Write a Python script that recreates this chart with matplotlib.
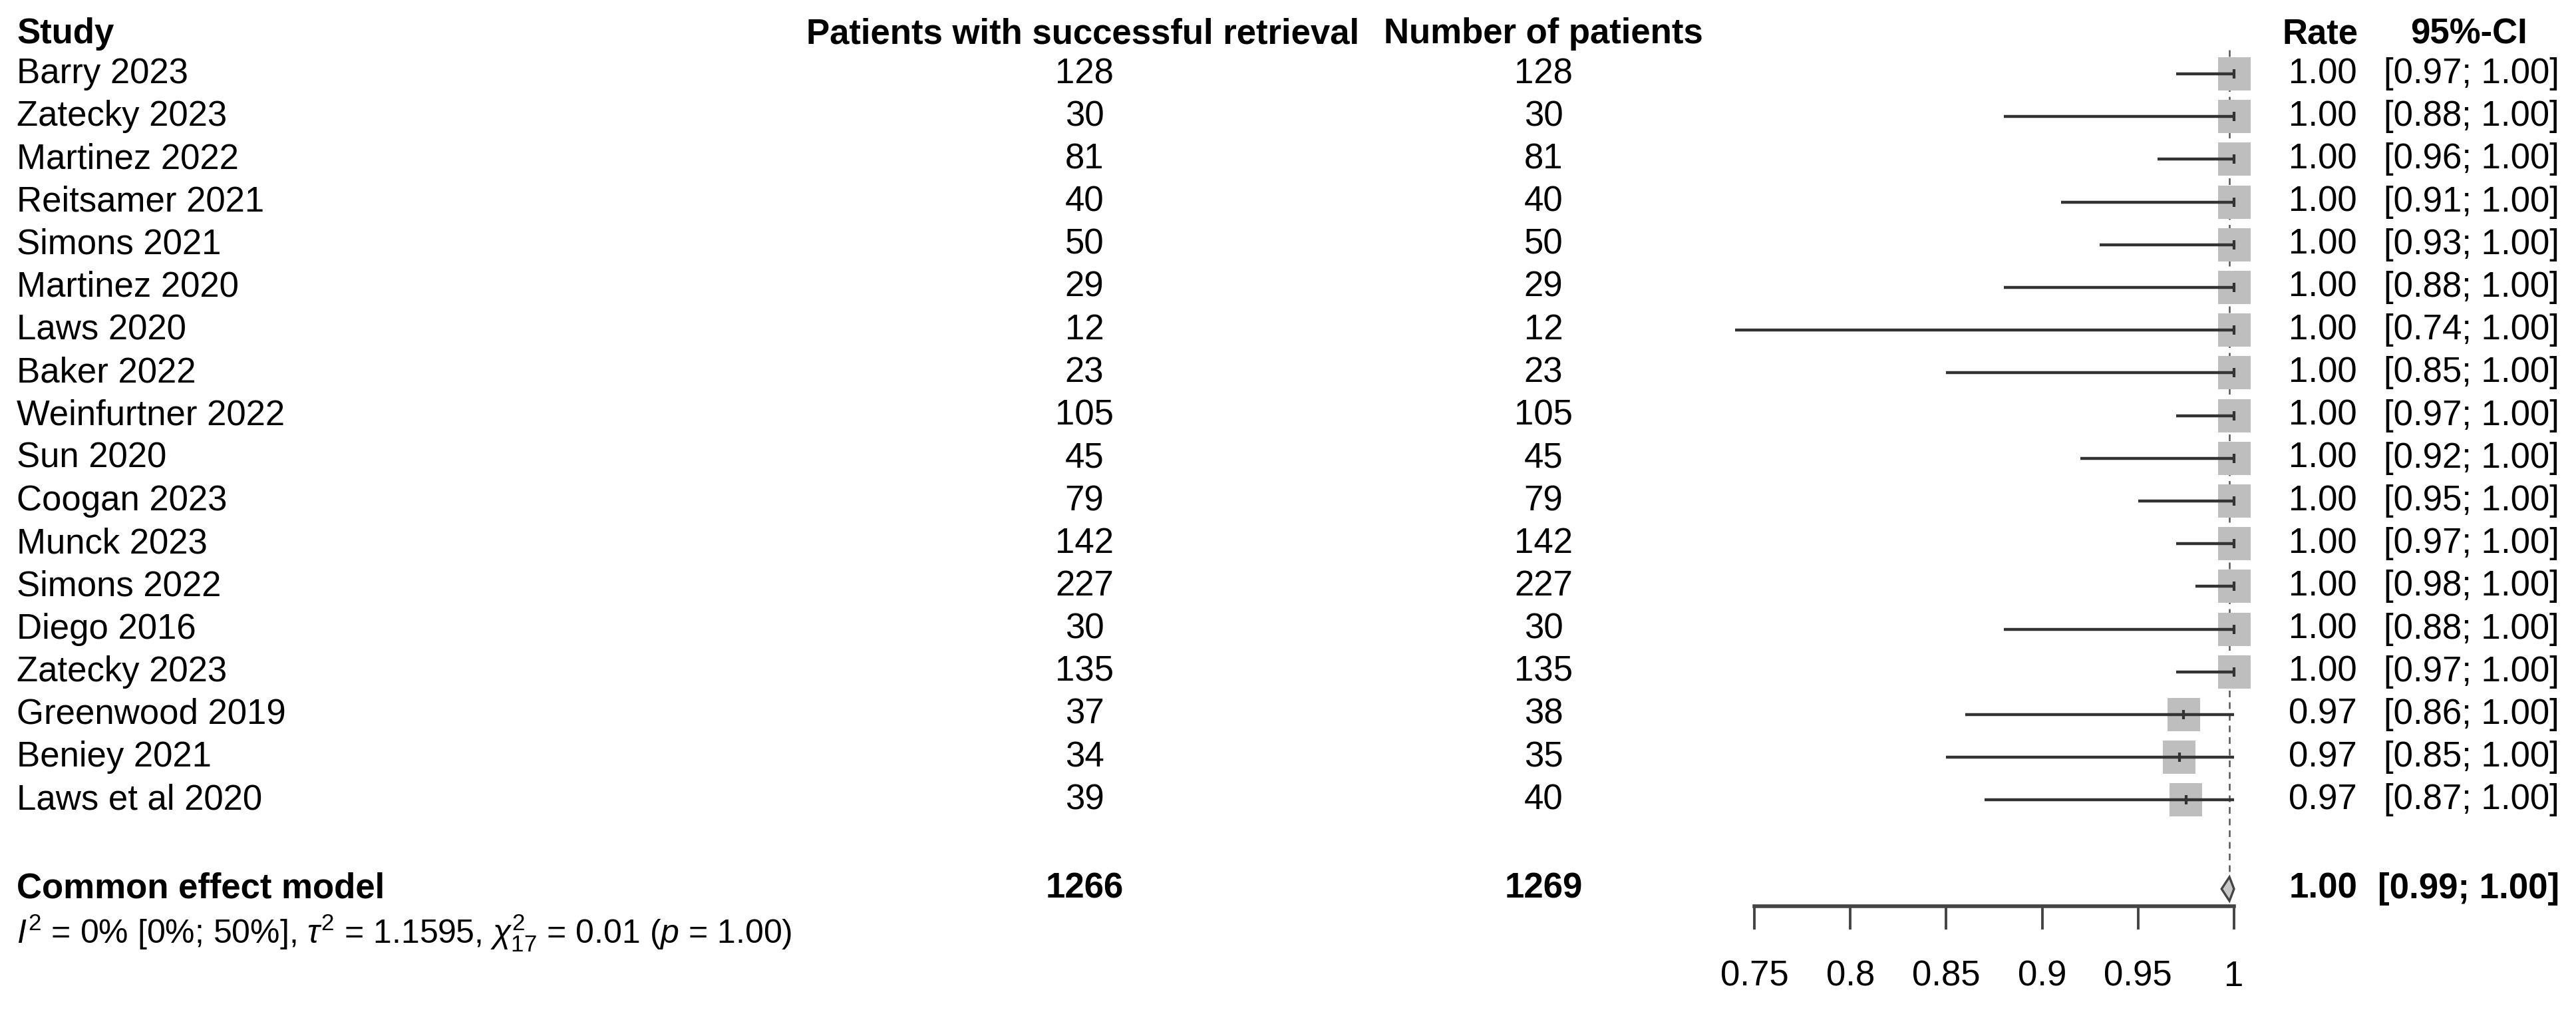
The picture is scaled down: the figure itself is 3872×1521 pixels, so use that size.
import matplotlib
matplotlib.use("Agg")
import matplotlib.pyplot as plt
from matplotlib.patches import Rectangle, Polygon
from matplotlib.transforms import blended_transform_factory

plt.rcParams.update({
    'font.family': ['Liberation Sans', 'DejaVu Sans'],
    'font.size': 38,
    'mathtext.fontset': 'custom',
    'mathtext.rm': 'Liberation Sans',
    'mathtext.it': 'Liberation Sans:italic',
    'mathtext.bf': 'Liberation Sans:bold',
})

studies = ["Barry 2023", "Zatecky 2023", "Martinez 2022", "Reitsamer 2021",
           "Simons 2021", "Martinez 2020", "Laws 2020", "Baker 2022",
           "Weinfurtner 2022", "Sun 2020", "Coogan 2023", "Munck 2023",
           "Simons 2022", "Diego 2016", "Zatecky 2023", "Greenwood 2019",
           "Beniey 2021", "Laws et al 2020"]
events = [128, 30, 81, 40, 50, 29, 12, 23, 105, 45, 79, 142, 227, 30, 135, 37, 34, 39]
totals = [128, 30, 81, 40, 50, 29, 12, 23, 105, 45, 79, 142, 227, 30, 135, 38, 35, 40]
rates = [1.00] * 15 + [0.9737, 0.9714, 0.9750]
rate_labels = ["1.00"] * 15 + ["0.97", "0.97", "0.97"]
ci_lower = [0.97, 0.88, 0.96, 0.91, 0.93, 0.88, 0.74, 0.85, 0.97, 0.92,
            0.95, 0.97, 0.98, 0.88, 0.97, 0.86, 0.85, 0.87]
ci_upper = [1.00] * 18

pooled_events, pooled_total = 1266, 1269
pooled_est, pooled_lo, pooled_hi = 0.9976, 0.9935, 1.0
pooled_label = ("1.00", "[0.99; 1.00]")

ticks = [0.75, 0.80, 0.85, 0.90, 0.95, 1.00]
tick_labels = ["0.75", "0.8", "0.85", "0.9", "0.95", "1"]

het_text = (r"$I^2$ = 0% [0%; 50%], $\tau^2$ = 1.1595, "
            r"$\chi^2_{17}$ = 0.01 ($p$ = 1.00)")

# layout in pixels of the 3872 x 1521 canvas
W, H = 3872, 1521
X075, X1 = 2637, 3358
ROW0, ROWH = 111, 64.2

fig = plt.figure(figsize=(W / 100, H / 100), dpi=100)
ax = fig.add_axes([0, 0, 1, 1])
ppu = (X1 - X075) / 0.25
ax.set_xlim(0.75 - X075 / ppu, 0.75 + (W - X075) / ppu)
ax.set_ylim((H - ROW0) / ROWH, -ROW0 / ROWH)

def row(py):
    return (py - ROW0) / ROWH

tx = blended_transform_factory(fig.transFigure, ax.transData)

def px(x):
    return x / W

y_head = row(51)
y_pool = row(1336)
y_het = row(1402)
y_axis = row(1362)

# headers
hdr = dict(fontweight="bold", va="center", transform=tx)
ax.text(px(25), y_head, "Study", ha="left", **hdr)
ax.text(px(1628), y_head, "Patients with successful retrieval", ha="center", **hdr)
ax.text(px(2320), y_head, "Number of patients", ha="center", **hdr)
ax.text(px(3545), y_head, "Rate", ha="right", **hdr)
ax.text(px(3711), y_head, "95%-CI", ha="center", **hdr)

# dashed line at pooled estimate
sq_h = 0.78
sq_w = 49 / ppu
dia_h = 18 / ROWH
ax.plot([pooled_est, pooled_est], [row(75), y_pool - dia_h], color="#555555",
        lw=1.8, linestyle=(0, (4, 3)), zorder=1)

for i, name in enumerate(studies):
    kw = dict(va="center", transform=tx)
    ax.text(px(25), i, name, ha="left", **kw)
    ax.text(px(1630), i, str(events[i]), ha="center", **kw)
    ax.text(px(2320), i, str(totals[i]), ha="center", **kw)
    ax.text(px(3543), i, rate_labels[i], ha="right", **kw)
    ax.text(px(3847), i, f"[{ci_lower[i]:.2f}; {ci_upper[i]:.2f}]", ha="right", **kw)
    ax.add_patch(Rectangle((rates[i] - sq_w / 2, i - sq_h / 2), sq_w, sq_h,
                           facecolor="#BEBEBE", edgecolor="none", zorder=2))
    ax.plot([ci_lower[i], ci_upper[i]], [i, i], color="#333333", lw=3.2,
            solid_capstyle="butt", zorder=3)
    ax.plot([rates[i]], [i], marker="|", markersize=10, mew=3,
            color="#333333", zorder=4)

# pooled row
bold = dict(va="center", fontweight="bold", transform=tx)
ax.text(px(25), y_pool, "Common effect model", ha="left", **bold)
ax.text(px(1630), y_pool, str(pooled_events), ha="center", **bold)
ax.text(px(2320), y_pool, str(pooled_total), ha="center", **bold)
ax.text(px(3543), y_pool, pooled_label[0], ha="right", **bold)
ax.text(px(3847), y_pool, pooled_label[1], ha="right", **bold)
ax.add_patch(Polygon([(pooled_lo, y_pool), (pooled_est, y_pool - dia_h),
                      (pooled_hi, y_pool), (pooled_est, y_pool + dia_h)],
                     closed=True, facecolor="#C8C8C8", edgecolor="#444444",
                     lw=2.4, zorder=3))

ax.text(px(25), y_het, het_text, ha="left", va="center", fontsize=36,
        transform=tx)

# x axis
for s in ["top", "left", "right"]:
    ax.spines[s].set_visible(False)
ax.spines["bottom"].set_position(("data", y_axis))
ax.spines["bottom"].set_bounds(0.75, 1.0)
ax.spines["bottom"].set_linewidth(4)
ax.spines["bottom"].set_color("#444444")
ax.set_xticks(ticks)
ax.set_xticklabels(tick_labels)
ax.tick_params(axis="x", direction="out", length=25, width=2.8,
               color="#444444", pad=33, labelsize=38)
ax.set_yticks([])

fig.savefig("out.png", dpi=100, facecolor="white")
